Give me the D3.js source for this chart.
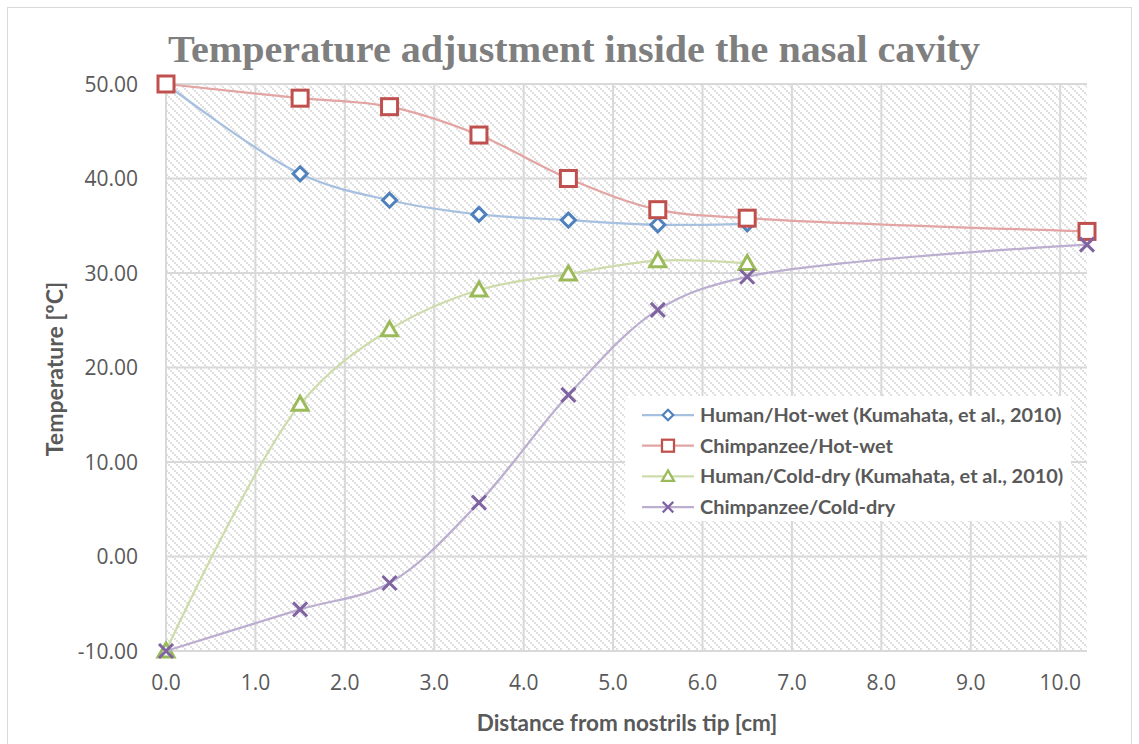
<!DOCTYPE html>
<html>
<head>
<meta charset="utf-8">
<script src="https://cdn.jsdelivr.net/npm/d3@7"></script>
<style>
  body { margin: 0; background: #fff; }
  svg { display: block; }
</style>
</head>
<body>
<svg id="chart" width="1139" height="744"></svg>
<script>
// data
const distance = [0, 1.5, 2.5, 3.5, 4.5, 5.5, 6.5, 10.3];
const humanHotWet = [50.0, 40.5, 37.7, 36.2, 35.6, 35.1, 35.2];
const chimpHotWet = [50.0, 48.5, 47.6, 44.6, 40.0, 36.7, 35.8, 34.4];
const humanColdDry = [-10.0, 16.1, 24.0, 28.2, 29.9, 31.3, 31.0];
const chimpColdDry = [-10.0, -5.6, -2.8, 5.7, 17.1, 26.1, 29.6, 33.0];

const xTicks = [0, 1, 2, 3, 4, 5, 6, 7, 8, 9, 10];
const yTicks = [-10, 0, 10, 20, 30, 40, 50];

const seriesNames = [
  "Human/Hot-wet (Kumahata, et al., 2010)",
  "Chimpanzee/Hot-wet",
  "Human/Cold-dry (Kumahata, et al., 2010)",
  "Chimpanzee/Cold-dry"
];

const series = [
  { name: seriesNames[0], values: humanHotWet, color: "#4f81bd", lineColor: "#a7c0e0", marker: "diamond" },
  { name: seriesNames[1], values: chimpHotWet, color: "#c0504d", lineColor: "#e2a5a4", marker: "square" },
  { name: seriesNames[2], values: humanColdDry, color: "#9bbb59", lineColor: "#cddcaa", marker: "triangle" },
  { name: seriesNames[3], values: chimpColdDry, color: "#8064a2", lineColor: "#bcaed0", marker: "cross" }
];

const svg = d3.select("#chart");
const margin = { left: 166, right: 1087, top: 84, bottom: 651 };

const x = d3.scaleLinear().domain([0, 10.3]).range([margin.left, margin.right]);
const y = d3.scaleLinear().domain([-10, 50]).range([margin.bottom, margin.top]);

// outer chart border
svg.append("rect")
  .attr("x", 7.5).attr("y", 7.5)
  .attr("width", 1124).attr("height", 740)
  .attr("fill", "#fff")
  .attr("stroke", "#d9d9d9");

// dotted diagonal hatching for the plot area
const defs = svg.append("defs");
const pat = defs.append("pattern")
  .attr("id", "hatch")
  .attr("patternUnits", "userSpaceOnUse")
  .attr("width", 8).attr("height", 8);
[0, 2, 4, 6].forEach(o => {
  pat.append("rect").attr("x", o).attr("y", o).attr("width", 2).attr("height", 2).attr("fill", "#e0e0e0");
});

svg.append("rect")
  .attr("x", margin.left).attr("y", margin.top)
  .attr("width", margin.right - margin.left)
  .attr("height", margin.bottom - margin.top)
  .attr("fill", "url(#hatch)");

// gridlines
const grid = svg.append("g").attr("stroke", "#d9d9d9").attr("stroke-width", 2);
grid.selectAll(".gx").data(xTicks).enter().append("line")
  .attr("x1", d => x(d)).attr("x2", d => x(d))
  .attr("y1", margin.top).attr("y2", margin.bottom);
grid.selectAll(".gy").data(yTicks).enter().append("line")
  .attr("x1", margin.left).attr("x2", margin.right)
  .attr("y1", d => y(d)).attr("y2", d => y(d));

// tick labels
svg.append("g")
  .attr("font-family", "'Open Sans', sans-serif")
  .attr("font-size", 21)
  .attr("fill", "#595959")
  .attr("text-anchor", "end")
  .selectAll("text").data(yTicks).enter().append("text")
  .attr("x", 138)
  .attr("y", d => y(d) + 7.5)
  .text(d => d.toFixed(2));

svg.append("g")
  .attr("font-family", "'Open Sans', sans-serif")
  .attr("font-size", 21)
  .attr("fill", "#595959")
  .attr("text-anchor", "middle")
  .selectAll("text").data(xTicks).enter().append("text")
  .attr("x", d => x(d))
  .attr("y", 690)
  .text(d => d.toFixed(1));

// titles
svg.append("text")
  .attr("x", 574).attr("y", 62)
  .attr("text-anchor", "middle")
  .attr("font-family", "'Liberation Serif', serif")
  .attr("font-weight", "bold")
  .attr("font-size", 37)
  .attr("fill", "#7f7f7f")
  .attr("textLength", 812)
  .attr("lengthAdjust", "spacingAndGlyphs")
  .text("Temperature adjustment inside the nasal cavity");

svg.append("text")
  .attr("x", 627).attr("y", 731)
  .attr("text-anchor", "middle")
  .attr("font-family", "Lato, sans-serif")
  .attr("font-weight", "bold")
  .attr("font-size", 22.5)
  .attr("fill", "#595959")
  .text("Distance from nostrils tip [cm]");

svg.append("text")
  .attr("transform", "translate(63,369) rotate(-90)")
  .attr("text-anchor", "middle")
  .attr("font-family", "Lato, sans-serif")
  .attr("font-weight", "bold")
  .attr("font-size", 23)
  .attr("fill", "#595959")
  .text("Temperature [ºC]");

// markers
const drawMarker = (sel, type, color) => {
  if (type === "diamond") {
    sel.append("path").attr("d", "M0,-7L7,0L0,7L-7,0Z")
      .attr("fill", "#fff").attr("stroke", color).attr("stroke-width", 3);
  } else if (type === "square") {
    sel.append("rect").attr("x", -8).attr("y", -8).attr("width", 16).attr("height", 16)
      .attr("fill", "#fff").attr("stroke", color).attr("stroke-width", 3);
  } else if (type === "triangle") {
    sel.append("path").attr("d", "M0,-8L8,6L-8,6Z")
      .attr("fill", "#fff").attr("stroke", color).attr("stroke-width", 3).attr("stroke-linejoin", "miter");
  } else {
    sel.append("path").attr("d", "M-7,-7L7,7M-7,7L7,-7")
      .attr("fill", "none").attr("stroke", color).attr("stroke-width", 3);
  }
};

const line = d3.line()
  .x(d => x(d[0]))
  .y(d => y(d[1]))
  .curve(d3.curveCatmullRom.alpha(0.5));

series.forEach(s => {
  const pts = s.values.map((v, i) => [distance[i], v]);
  const g = svg.append("g");
  g.append("path")
    .datum(pts)
    .attr("d", line)
    .attr("fill", "none")
    .attr("stroke", s.lineColor)
    .attr("stroke-width", 2.25);
  g.selectAll(".m").data(pts).enter().append("g")
    .attr("transform", d => `translate(${x(d[0])},${y(d[1])})`)
    .each(function () { drawMarker(d3.select(this), s.marker, s.color); });
});

// legend
const legend = svg.append("g");
legend.append("rect")
  .attr("x", 625).attr("y", 396)
  .attr("width", 446).attr("height", 125)
  .attr("fill", "#fff");
series.forEach((s, i) => {
  const ly = 415 + i * 30.7;
  const row = legend.append("g");
  row.append("line")
    .attr("x1", 642).attr("x2", 694)
    .attr("y1", ly).attr("y2", ly)
    .attr("stroke", s.lineColor).attr("stroke-width", 2.25);
  const m = row.append("g")
    .attr("transform", `translate(668,${ly}) scale(0.75)`);
  drawMarker(m, s.marker, s.color);
  row.append("text")
    .attr("x", 700).attr("y", ly + 7)
    .attr("font-family", "Lato, sans-serif")
    .attr("font-weight", "bold")
    .attr("font-size", 19.9)
    .attr("fill", "#595959")
    .text(s.name);
});
</script>
</body>
</html>
